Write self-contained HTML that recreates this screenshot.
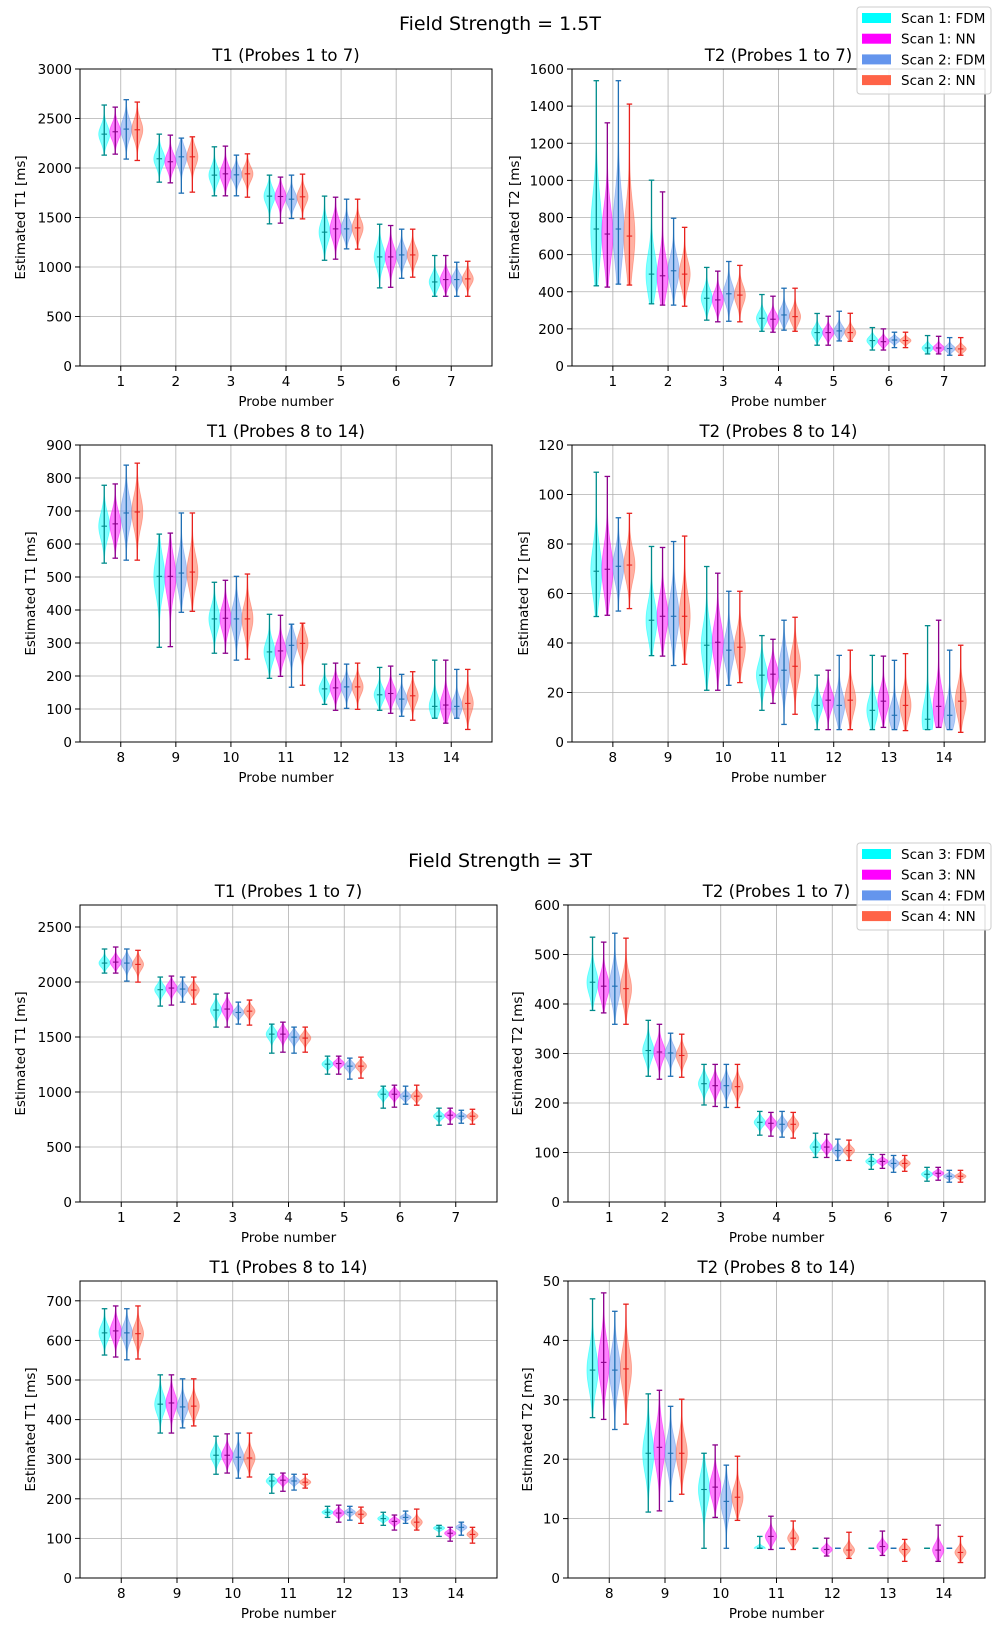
<!DOCTYPE html>
<html><head><meta charset="utf-8">
<style>
html,body{margin:0;padding:0;background:#fff;}
svg{display:block;font-family:"DejaVu Sans","Liberation Sans",sans-serif;}
</style></head>
<body>
<svg id="fig" width="1001" height="1637" viewBox="0 0 1001 1637" xmlns="http://www.w3.org/2000/svg">
<text x="500" y="30" font-size="19" text-anchor="middle">Field Strength = 1.5T</text>
<text x="500" y="867" font-size="19" text-anchor="middle">Field Strength = 3T</text>
</svg>
<script>
// ---- data: [series][probe] ; series order: FDM(scan a), NN(scan a), FDM(scan b), NN(scan b)
const probes1to7 = [1,2,3,4,5,6,7];
const probes8to14 = [8,9,10,11,12,13,14];
const seriesNames15 = ["Scan 1: FDM","Scan 1: NN","Scan 2: FDM","Scan 2: NN"];
const seriesNames3 = ["Scan 3: FDM","Scan 3: NN","Scan 4: FDM","Scan 4: NN"];

// Panel A: T1 1.5T probes 1-7
const aMin = [[2130,1857,1719,1436,1068,789,704],[2140,1850,1719,1443,1079,795,704],[2090,1746,1719,1490,1183,886,704],[2076,1756,1705,1486,1180,897,704]];
const aMed = [[2342,2093,1928,1716,1352,1102,849],[2366,2063,1941,1712,1385,1102,873],[2393,2113,1931,1685,1385,1122,873],[2386,2113,1941,1709,1395,1122,880]];
const aMax = [[2636,2342,2214,1928,1716,1432,1116],[2615,2332,2221,1908,1705,1419,1116],[2690,2302,2130,1928,1685,1382,1048],[2666,2315,2143,1938,1685,1382,1058]];
// Panel B: T2 1.5T probes 1-7
const bMin = [[432,335,247,187,112,86,65],[425,328,238,182,112,86,65],[441,328,241,193,135,99,58],[436,322,238,187,133,99,58]];
const bMed = [[738,495,365,257,180,137,97],[711,486,356,252,180,131,97],[738,513,389,275,189,140,94],[700,495,382,266,180,137,92]];
const bMax = [[1537,1001,531,385,283,207,164],[1310,938,511,376,268,200,160],[1537,796,563,419,295,182,153],[1411,747,542,419,284,182,153]];
// Panel C: T1 1.5T probes 8-14
const cMin = [[542,287,269,193,114,96,72],[557,289,269,199,96,87,57],[551,393,248,166,102,78,72],[551,396,251,172,99,66,38]];
const cMed = [[654,502,373,273,161,143,108],[661,502,375,276,164,147,112],[694,512,373,293,167,130,108],[697,515,373,299,167,140,117]];
const cMax = [[778,630,484,387,236,226,248],[782,633,490,384,239,230,248],[839,694,502,357,236,205,220],[845,694,509,360,239,213,220]];
// Panel D: T2 1.5T probes 8-14
const dMin = [[50.7,34.9,20.9,12.8,5,5,5],[51.2,34.7,20.9,15.6,5,5.9,5.9],[52.9,30.9,22.9,7.1,5,5,5],[53.9,31.4,24,11.2,5,4.6,3.9]];
const dMed = [[69,49.2,39.1,27,14.8,12.8,9.2],[69.8,50.8,40.3,27.4,16.9,16.5,14.4],[71,50.8,37.1,29,14.8,10.8,10.8],[71.5,50.8,38.3,30.6,16.9,14.8,16.5]];
const dMax = [[109,79,70.9,43,27,35,47],[107.3,78.6,68.2,41.5,29,34.7,49.2],[90.6,81,60.9,49.2,35,33,37.1],[92.4,83.2,60.9,50.4,37.1,35.7,39.1]];
// Panel E: T1 3T probes 1-7
const eMin = [[2081,1781,1590,1353,1162,853,698],[2081,1790,1590,1362,1162,862,707],[2008,1817,1617,1353,1117,889,716],[1999,1799,1608,1362,1126,880,707]];
const eMed = [[2172,1930,1745,1526,1253,980,780],[2181,1945,1754,1526,1259,980,789],[2172,1936,1723,1499,1235,962,780],[2160,1927,1735,1490,1235,962,780]];
const eMax = [[2300,2045,1890,1617,1326,1053,853],[2318,2054,1899,1635,1326,1062,853],[2300,2045,1817,1590,1308,1053,834],[2288,2045,1836,1590,1317,1062,843]];
// Panel F: T2 3T probes 1-7
const fMin = [[387,254,196,135,90,66,42],[382,248,193,133,90,68,44],[359,254,191,131,84,60,40],[359,252,191,129,84,62,40]];
const fMed = [[444,306,239,161,111,82,56],[436,303,235,159,111,82,58],[436,301,235,157,104,78,52],[431,296,233,157,104,78,52]];
const fMax = [[535,367,278,183,139,96,70],[525,359,278,181,137,96,70],[543,341,278,183,127,94,64],[533,339,278,181,125,94,64]];
// Panel G: T1 3T probes 8-14
const gMin = [[563,366,262,214,153,133,105],[558,366,265,219,141,121,93],[551,379,252,222,146,138,108],[553,384,255,227,138,121,88]];
const gMed = [[619,439,310,245,166,150,126],[624,442,310,247,164,143,113],[619,432,305,245,166,153,128],[617,434,303,242,161,141,110]];
const gMax = [[680,513,358,262,181,166,133],[687,513,364,265,184,159,128],[680,503,366,262,181,169,141],[687,503,366,262,179,174,128]];
// Panel H: T2 3T probes 8-14
const hMin = [[27,11.1,5,5,5,5,5],[26.7,11.3,10.2,4.8,3.7,3.8,2.8],[25,12.9,5,5,5,5,5],[25.9,14.1,9.7,4.8,3.3,2.8,2.6]];
const hMed = [[35,21,14.9,5,5,5,5],[36.3,22,15.3,7,4.8,5.3,4.7],[35,21,12.9,5,5,5,5],[35.2,21,13.6,6.7,4.7,4.8,4.3]];
const hMax = [[47,31,21,7,5,5,5],[48,31.6,22.4,10.4,6.7,7.9,8.9],[44.9,28.9,19,5,5,5,5],[46.1,30.1,20.5,9.6,7.7,6.5,7]];

const yTicksA=[0,500,1000,1500,2000,2500,3000];
const yTicksB=[0,200,400,600,800,1000,1200,1400,1600];
const yTicksC=[0,100,200,300,400,500,600,700,800,900];
const yTicksD=[0,20,40,60,80,100,120];
const yTicksE=[0,500,1000,1500,2000,2500];
const yTicksF=[0,100,200,300,400,500,600];
const yTicksG=[0,100,200,300,400,500,600,700];
const yTicksH=[0,10,20,30,40,50];

const fillCols=["#00ffff","#ff00ff","#6495ed","#ff6347"];
const lineCols=["#008b8b","#8b008b","#1f6fb4","#e8211d"];
const offsets=[-0.3,-0.1,0.1,0.3];

const NS="http://www.w3.org/2000/svg";
const svg=document.getElementById("fig");
function mk(tag,attrs,parent){const e=document.createElementNS(NS,tag);for(const k in attrs)e.setAttribute(k,attrs[k]);(parent||svg).appendChild(e);return e;}

function panel(geo,probes,yTicks,ymax,mins,meds,maxs,name){
  const g=mk("g",{});
  
  
  const x0=probes[0]-0.74,x1=probes[probes.length-1]+0.74;
  const X=v=>geo.l+(v-x0)/(x1-x0)*(geo.r-geo.l);
  const Y=v=>geo.b-(v/ymax)*(geo.b-geo.t);
  yTicks.forEach(t=>{
    const ln=mk("line",{x1:geo.l,x2:geo.r,y1:Y(t),y2:Y(t),stroke:"#b0b0b0","stroke-width":0.8},g);
    
    
    mk("line",{x1:geo.l-5,x2:geo.l,y1:Y(t),y2:Y(t),stroke:"#000","stroke-width":1},g);
    const tx=mk("text",{x:geo.l-8,y:Y(t)+5,"font-size":13.5,"text-anchor":"end"},g);
    tx.textContent=t;
    
    
  });
  probes.forEach(p=>{
    mk("line",{x1:X(p),x2:X(p),y1:geo.t,y2:geo.b,stroke:"#b0b0b0","stroke-width":0.8},g);
    mk("line",{x1:X(p),x2:X(p),y1:geo.b,y2:geo.b+5,stroke:"#000","stroke-width":1},g);
    const tx=mk("text",{x:X(p),y:geo.b+20,"font-size":13.5,"text-anchor":"middle"},g);
    tx.textContent=p;
    
    
  });
  const hw=0.1,cw=0.05;
  for(let s=0;s<4;s++){
    for(let i=0;i<probes.length;i++){
      const lo=mins[s][i],md=meds[s][i],hi=maxs[s][i],cx=probes[i]+offsets[s];
      const sd=Math.max((hi-lo)/6,1e-9);
      if(hi>lo){
        const N=50;let right=[],left=[];
        for(let k=0;k<=N;k++){
          const v=lo+(hi-lo)*k/N;
          const w=hw*Math.exp(-0.5*Math.pow((v-md)/sd,2));
          right.push([X(cx+w),Y(v)]);left.push([X(cx-w),Y(v)]);
        }
        const pts=right.concat(left.reverse());
        const body=mk("path",{d:"M"+pts.map(q=>q[0].toFixed(2)+","+q[1].toFixed(2)).join("L")+"Z",fill:fillCols[s],"fill-opacity":0.5,stroke:fillCols[s],"stroke-opacity":0.5,"stroke-width":0.8},g);
        
        
      }
      const c=lineCols[s];
      mk("line",{x1:X(cx),x2:X(cx),y1:Y(lo),y2:Y(hi),stroke:c,"stroke-width":1.3},g);
      mk("line",{x1:X(cx-cw),x2:X(cx+cw),y1:Y(lo),y2:Y(lo),stroke:c,"stroke-width":1.3},g);
      mk("line",{x1:X(cx-cw),x2:X(cx+cw),y1:Y(hi),y2:Y(hi),stroke:c,"stroke-width":1.3},g);
      const med=mk("line",{x1:X(cx-cw),x2:X(cx+cw),y1:Y(md),y2:Y(md),stroke:c,"stroke-width":1.1},g);
      
      
    }
  }
  mk("rect",{x:geo.l,y:geo.t,width:geo.r-geo.l,height:geo.b-geo.t,fill:"none",stroke:"#000","stroke-width":1},g);
  const ti=mk("text",{x:(geo.l+geo.r)/2,y:geo.t-8,"font-size":16.5,"text-anchor":"middle"},g);
  ti.textContent=geo.title;
  
  
  const xl=mk("text",{x:(geo.l+geo.r)/2,y:geo.b+40,"font-size":13.5,"text-anchor":"middle"},g);
  xl.textContent="Probe number";
  
  
  const yc=(geo.t+geo.b)/2;
  const yl=mk("text",{x:geo.ylx,y:yc,"font-size":13.5,"text-anchor":"middle",transform:"rotate(-90 "+geo.ylx+" "+yc+")"},g);
  yl.textContent=geo.ylabel;
  
  
}

panel({l:80,r:492,t:69,b:366,title:"T1 (Probes 1 to 7)",ylabel:"Estimated T1 [ms]",ylx:25},probes1to7,yTicksA,3000,aMin,aMed,aMax,"panel-t1-1-5t-probes-1-7");
panel({l:572,r:985,t:69,b:366,title:"T2 (Probes 1 to 7)",ylabel:"Estimated T2 [ms]",ylx:519},probes1to7,yTicksB,1600,bMin,bMed,bMax,"panel-t2-1-5t-probes-1-7");
panel({l:80,r:492,t:445,b:742,title:"T1 (Probes 8 to 14)",ylabel:"Estimated T1 [ms]",ylx:35},probes8to14,yTicksC,900,cMin,cMed,cMax,"panel-t1-1-5t-probes-8-14");
panel({l:572,r:985,t:445,b:742,title:"T2 (Probes 8 to 14)",ylabel:"Estimated T2 [ms]",ylx:528},probes8to14,yTicksD,120,dMin,dMed,dMax,"panel-t2-1-5t-probes-8-14");
panel({l:80,r:497,t:905,b:1202,title:"T1 (Probes 1 to 7)",ylabel:"Estimated T1 [ms]",ylx:25},probes1to7,yTicksE,2700,eMin,eMed,eMax,"panel-t1-3t-probes-1-7");
panel({l:568,r:985,t:905,b:1202,title:"T2 (Probes 1 to 7)",ylabel:"Estimated T2 [ms]",ylx:522},probes1to7,yTicksF,600,fMin,fMed,fMax,"panel-t2-3t-probes-1-7");
panel({l:80,r:497,t:1281,b:1578,title:"T1 (Probes 8 to 14)",ylabel:"Estimated T1 [ms]",ylx:35},probes8to14,yTicksG,750,gMin,gMed,gMax,"panel-t1-3t-probes-8-14");
panel({l:568,r:985,t:1281,b:1578,title:"T2 (Probes 8 to 14)",ylabel:"Estimated T2 [ms]",ylx:532},probes8to14,yTicksH,50,hMin,hMed,hMax,"panel-t2-3t-probes-8-14");

function legend(x,y,names,name){
  const g=mk("g",{});
  
  
  mk("rect",{x:x,y:y,width:134,height:87,rx:3,fill:"#fff","fill-opacity":0.85,stroke:"#cccccc","stroke-width":1},g);
  names.forEach((n,i)=>{
    const yy=y+6+i*20.7;
    mk("rect",{x:x+5,y:yy,width:29,height:10,fill:fillCols[i]},g);
    const t=mk("text",{x:x+44,y:yy+10,"font-size":13.5},g);
    t.textContent=n;
    
    
  });
}
legend(857,7,seriesNames15,"legend-1-5t");
legend(857,843,seriesNames3,"legend-3t");
</script>
</body></html>
